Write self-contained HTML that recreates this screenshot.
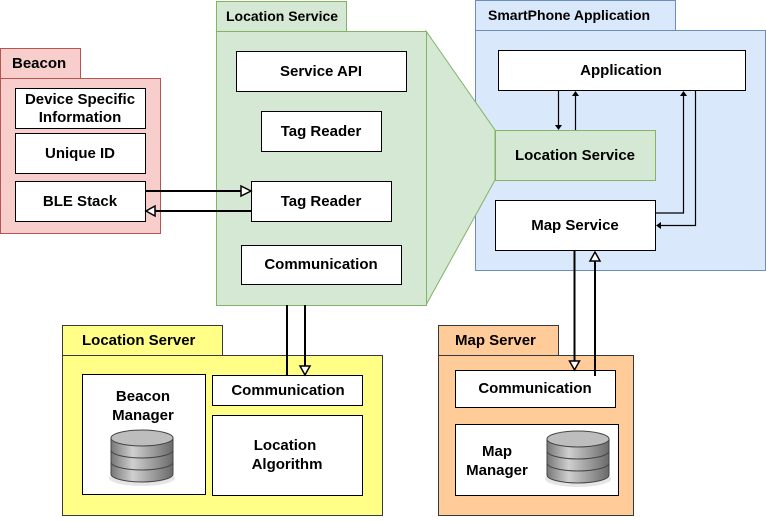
<!DOCTYPE html>
<html><head><meta charset="utf-8"><style>
html,body{margin:0;padding:0;background:#fff;}
svg text{font-family:"Liberation Sans",Arial,sans-serif;font-weight:bold;font-size:15px;fill:#000;}
</style></head><body>
<svg width="766" height="517" viewBox="0 0 766 517" xmlns="http://www.w3.org/2000/svg">
<defs>
<linearGradient id="db" x1="0" x2="1" y1="0" y2="0">
<stop offset="0" stop-color="#777"/><stop offset="0.35" stop-color="#cfcfcf"/><stop offset="1" stop-color="#6a6a6a"/>
</linearGradient>
<g id="cyl">
<ellipse cx="31" cy="48" rx="33" ry="8" fill="#ccc" opacity="0.5"/>
<path d="M0 8 V44 A31 8 0 0 0 62 44 V8 Z" fill="url(#db)" stroke="#444" stroke-width="1"/>
<path d="M0 20 A31 8 0 0 0 62 20 M0 32 A31 8 0 0 0 62 32" fill="none" stroke="#444" stroke-width="1"/>
<ellipse cx="31" cy="8" rx="31" ry="8" fill="#bdbdbd" stroke="#444" stroke-width="1"/>
</g>
</defs>

<!-- SmartPhone Application -->
<rect x="475.5" y="0.5" width="200" height="30" fill="#dae8fc" stroke="#6c8ebf"/>
<rect x="475.5" y="30.5" width="290" height="240" fill="#dae8fc" stroke="#6c8ebf"/>
<text x="488" y="20" style="font-size:14px">SmartPhone Application</text>

<!-- Location Service zoom trapezoid -->
<polygon points="426,31 495,130 495,180 426,305" fill="#d5e8d4" stroke="#82b366" stroke-width="1"/>

<!-- Beacon -->
<rect x="0.5" y="48.5" width="80" height="30" fill="#f8cecc" stroke="#b85450"/>
<rect x="0.5" y="78.5" width="160" height="155" fill="#f8cecc" stroke="#b85450"/>
<text x="12" y="68">Beacon</text>
<rect x="15.5" y="88.5" width="130" height="40" fill="#fff" stroke="#000"/>
<text x="80" y="104" text-anchor="middle">Device Specific</text>
<text x="80" y="122" text-anchor="middle">Information</text>
<rect x="15.5" y="133.5" width="130" height="40" fill="#fff" stroke="#000"/>
<text x="80" y="158" text-anchor="middle">Unique ID</text>
<rect x="15.5" y="181.5" width="130" height="40" fill="#fff" stroke="#000"/>
<text x="80" y="206" text-anchor="middle">BLE Stack</text>

<!-- Location Service -->
<rect x="216.5" y="1.5" width="130" height="30" fill="#d5e8d4" stroke="#82b366"/>
<rect x="216.5" y="31.5" width="210" height="274" fill="#d5e8d4" stroke="#82b366"/>
<text x="226" y="21" style="font-size:14px">Location Service</text>
<rect x="236.5" y="51.5" width="170" height="40" fill="#fff" stroke="#000"/>
<text x="321" y="76" text-anchor="middle">Service API</text>
<rect x="261.5" y="111.5" width="120" height="40" fill="#fff" stroke="#000"/>
<text x="321" y="136" text-anchor="middle">Tag Reader</text>
<rect x="251.5" y="181.5" width="140" height="40" fill="#fff" stroke="#000"/>
<text x="321" y="206" text-anchor="middle">Tag Reader</text>
<rect x="241.5" y="245.5" width="160" height="39" fill="#fff" stroke="#000"/>
<text x="321" y="269" text-anchor="middle">Communication</text>

<!-- BLE arrows -->
<line x1="145" y1="191" x2="241" y2="191" stroke="#000" stroke-width="2"/>
<polygon points="241,186 251,191 241,196" fill="#fff" stroke="#000" stroke-width="1.5"/>
<line x1="251" y1="211" x2="155" y2="211" stroke="#000" stroke-width="2"/>
<polygon points="155,206 146,211 155,216" fill="#fff" stroke="#000" stroke-width="1.5"/>

<!-- SmartPhone inner -->
<rect x="498.5" y="50.5" width="247" height="40" fill="#fff" stroke="#000"/>
<text x="621" y="75" text-anchor="middle">Application</text>
<rect x="495.5" y="130.5" width="160" height="50" fill="#d5e8d4" stroke="#82b366"/>
<text x="575" y="160" text-anchor="middle">Location Service</text>
<rect x="495.5" y="200.5" width="160" height="50" fill="#fff" stroke="#000"/>
<text x="575" y="230" text-anchor="middle">Map Service</text>

<g stroke="#000" stroke-width="1.2" fill="none">
<line x1="558.5" y1="91" x2="558.5" y2="126"/>
<line x1="575.5" y1="130" x2="575.5" y2="95"/>
<polyline points="656,213 683.5,213 683.5,95"/>
<polyline points="695.5,91 695.5,225.5 660,225.5"/>
</g>
<g fill="#000">
<polygon points="555,125 562,125 558.5,130"/>
<polygon points="572,96 579,96 575.5,91"/>
<polygon points="680,96 687,96 683.5,91"/>
<polygon points="661,222 661,229 656,225.5"/>
</g>

<!-- Location Server -->
<rect x="62.5" y="325.5" width="160" height="30" fill="#ffff88" stroke="#36393d"/>
<rect x="62.5" y="355.5" width="320" height="160" fill="#ffff88" stroke="#36393d"/>
<text x="82" y="345">Location Server</text>
<rect x="82.5" y="374.5" width="123" height="120" fill="#fff" stroke="#000"/>
<text x="143" y="401" text-anchor="middle">Beacon</text>
<text x="143" y="420" text-anchor="middle">Manager</text>
<use href="#cyl" x="111" y="430"/>
<rect x="212.5" y="375.5" width="150" height="30" fill="#fff" stroke="#000"/>
<text x="288" y="395" text-anchor="middle">Communication</text>
<rect x="212.5" y="415.5" width="150" height="80" fill="#fff" stroke="#000"/>
<text x="285" y="450" text-anchor="middle">Location</text>
<text x="287" y="469" text-anchor="middle">Algorithm</text>

<line x1="287" y1="305" x2="287" y2="375" stroke="#000" stroke-width="2"/>
<line x1="305" y1="305" x2="305" y2="366" stroke="#000" stroke-width="2"/>
<polygon points="300,366 310,366 305,375" fill="#fff" stroke="#000" stroke-width="1.5"/>

<!-- Map Server -->
<rect x="438.5" y="325.5" width="120" height="30" fill="#ffcc99" stroke="#36393d"/>
<rect x="438.5" y="355.5" width="195" height="160" fill="#ffcc99" stroke="#36393d"/>
<text x="455" y="345">Map Server</text>
<rect x="455.5" y="370.5" width="160" height="37" fill="#fff" stroke="#000"/>
<text x="535" y="393" text-anchor="middle">Communication</text>
<rect x="455.5" y="424.5" width="163" height="71" fill="#fff" stroke="#000"/>
<text x="497" y="456" text-anchor="middle">Map</text>
<text x="497" y="475" text-anchor="middle">Manager</text>
<use href="#cyl" x="547" y="431"/>

<line x1="574.5" y1="251" x2="574.5" y2="361" stroke="#000" stroke-width="2"/>
<polygon points="569.5,361 579.5,361 574.5,370" fill="#fff" stroke="#000" stroke-width="1.5"/>
<line x1="595" y1="376" x2="595" y2="261" stroke="#000" stroke-width="2"/>
<polygon points="590,261 600,261 595,252" fill="#fff" stroke="#000" stroke-width="1.5"/>
</svg>
</body></html>
